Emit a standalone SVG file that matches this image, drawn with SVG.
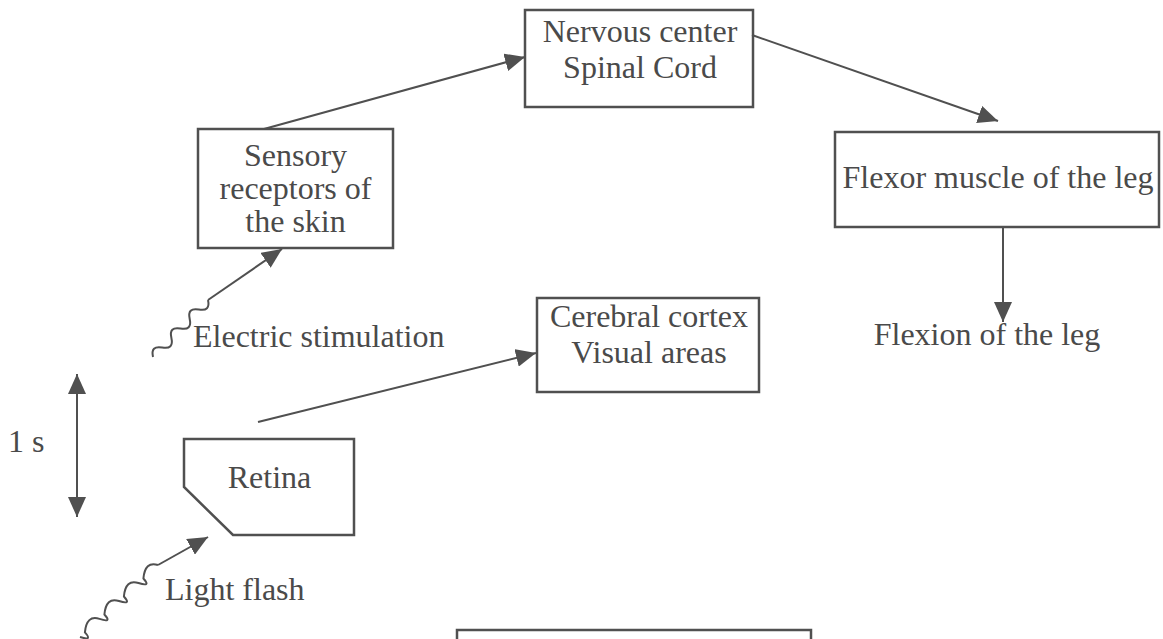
<svg xmlns="http://www.w3.org/2000/svg" width="1163" height="639" viewBox="0 0 1163 639">
  <style>
    .box { fill: none; stroke: #505050; stroke-width: 2.5; }
    .lbl { font-family: "Liberation Serif", "Times New Roman", serif; font-size: 32px; fill: #4a4a4a; }
    .mid { text-anchor: middle; }
    .conn { fill: none; stroke: #505050; stroke-width: 2; }
    .wave { fill: none; stroke: #505050; stroke-width: 2; stroke-linejoin: round; }
  </style>
  <defs>
    <marker id="head" viewBox="0 0 20 18" refX="20" refY="9" markerWidth="20" markerHeight="18" markerUnits="userSpaceOnUse" orient="auto-start-reverse">
      <path d="M0,0 L20,9 L0,18 z" fill="#505050"/>
    </marker>
  </defs>
  <rect width="1163" height="639" fill="#ffffff"/>

  <g id="nervous-center">
    <rect class="box" x="525" y="10" width="228" height="97"/>
    <text class="lbl mid" x="640" y="42">Nervous center</text>
    <text class="lbl mid" x="640" y="78">Spinal Cord</text>
  </g>

  <g id="sensory-receptors">
    <rect class="box" x="198" y="129" width="195" height="119"/>
    <text class="lbl mid" x="295.5" y="166">Sensory</text>
    <text class="lbl mid" x="295.5" y="199">receptors of</text>
    <text class="lbl mid" x="295.5" y="232">the skin</text>
  </g>

  <g id="flexor-muscle">
    <rect class="box" x="835" y="132" width="324" height="95"/>
    <text class="lbl mid" x="998" y="188">Flexor muscle of the leg</text>
  </g>

  <g id="flexion">
    <text class="lbl mid" x="987" y="345">Flexion of the leg</text>
  </g>

  <g id="cerebral-cortex">
    <rect class="box" x="537" y="298" width="222" height="94"/>
    <text class="lbl mid" x="649" y="327">Cerebral cortex</text>
    <text class="lbl mid" x="649" y="363">Visual areas</text>
  </g>

  <g id="retina">
    <polygon class="box" points="184,439 354,439 354,535 233,535 184,487"/>
    <text class="lbl mid" x="269.5" y="488">Retina</text>
  </g>

  <g id="electric-stimulation">
    <text class="lbl" x="193" y="347">Electric stimulation</text>
  </g>

  <g id="light-flash">
    <text class="lbl" x="165" y="600">Light flash</text>
  </g>

  <g id="time-scale">
    <text class="lbl" x="8" y="452">1 s</text>
  </g>

  <g id="lower-box">
    <polyline class="box" points="457,641 457,630 811,630 811,641"/>
  </g>

  <g id="connectors">
    <line class="conn" x1="264" y1="129" x2="525" y2="57" marker-end="url(#head)"/>
    <line class="conn" x1="752" y1="35" x2="998" y2="121" marker-end="url(#head)"/>
    <line class="conn" x1="1003" y1="227" x2="1003" y2="322" marker-end="url(#head)"/>
    <line class="conn" x1="258" y1="422" x2="536" y2="353" marker-end="url(#head)"/>
    <line class="conn" x1="77" y1="374" x2="77" y2="517" marker-start="url(#head)" marker-end="url(#head)"/>
    <!-- electric stimulus: zigzag lead into the skin receptors -->
    <path class="wave" d="M153,357 Q150.4,345.3 162.2,347.5 Q174,349.7 171.4,338 Q168.7,326.3 180.5,328.5 Q192.3,330.7 189.7,319 Q187.1,307.3 198.8,309.5 Q210.6,311.7 208,300"/>
    <line class="conn" x1="208" y1="300" x2="282" y2="249" marker-end="url(#head)"/>
    <!-- light stimulus: wavy ray into the retina -->
    <path class="wave" d="M80,637 Q93,641.3 84.9,632.4 Q86.5,614.6 99.5,618.9 Q112.5,623.3 104.4,614.5 Q106,596.6 119,601 Q132,605.3 123.9,596.5 Q125.5,578.7 138.5,583 Q151.5,587.3 143.4,578.5 Q145,560.7 158,565"/>
    <line class="conn" x1="158" y1="565" x2="208" y2="537" marker-end="url(#head)"/>
  </g>
</svg>
